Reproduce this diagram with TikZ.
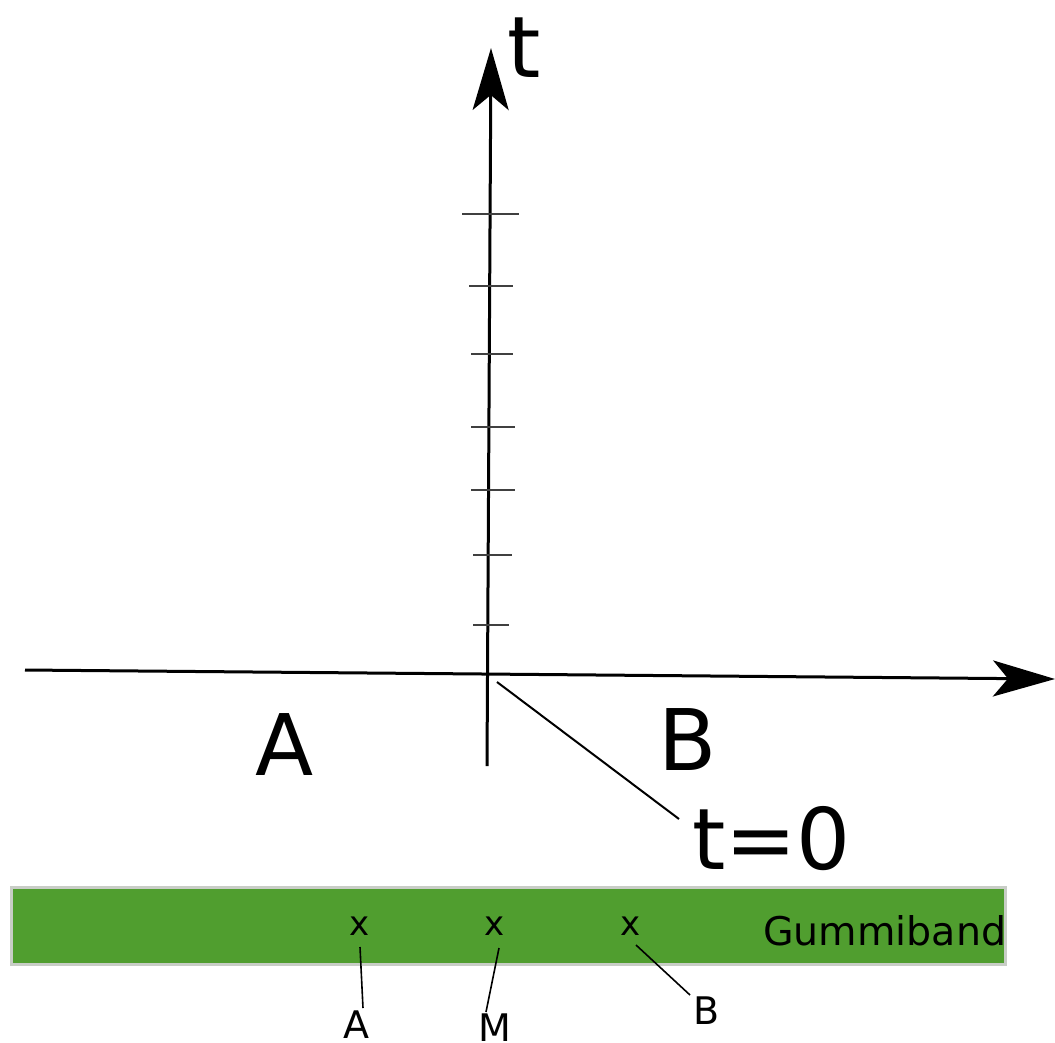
\documentclass[tikz,border=0pt]{standalone}
\usepackage{fontspec}
\setmainfont{DejaVu Sans}
\usetikzlibrary{arrows.meta}
\definecolor{bandgreen}{RGB}{80,158,47}
\definecolor{bandedge}{RGB}{200,205,198}
\begin{document}
\begin{tikzpicture}[x=1pt,y=-1pt,
  axis/.style={line width=3pt,-{Stealth[length=62pt,width=36pt,inset=15pt]}},
  tickmark/.style={line width=2.7pt,black!75},
  big/.style={font=\fontsize{85}{90}\selectfont,inner sep=0pt,anchor=base},
  small/.style={font=\fontsize{38}{40}\selectfont,inner sep=0pt,anchor=base},
  xmark/.style={font=\fontsize{34}{36}\selectfont,inner sep=0pt,anchor=base},
  leader/.style={line width=1.6pt}]
\useasboundingbox (0,0) rectangle (1055,1042);
% axes
\coordinate (vbot) at (487,766);
\coordinate (vtop) at (491,48);
\coordinate (hleft) at (25,670);
\coordinate (hright) at (1055,679);
\draw[axis] (vbot) -- (vtop);
\draw[axis] (hleft) -- (hright);
% ticks
\foreach \y/\a/\b in {214/462/519,286/469/513,354/471/513,427/471/515,490/471/515,555/473/512,625/473/509}{
  \draw[tickmark] (\a,\y) -- (\b,\y);
}
% labels
\node[big] (tl) at (524,77) {t};
\node[big] (Abig) at (285,775) {A};
\node[big] (Bbig) at (688,770) {B};
\node[big,anchor=base west] (t0) at (692,869) {t=0};
\coordinate (orig) at (497,682);
\coordinate (t0end) at (679,819);
\draw[line width=2pt] (orig) -- (t0end);
% band
\node[draw=bandedge,line width=3pt,fill=bandgreen,minimum width=994pt,minimum height=77pt,anchor=north west,inner sep=0pt] (band) at (9.5,885.5) {};
\node[xmark] (xA) at (360,935) {x};
\node[xmark] (xM) at (495,935) {x};
\node[xmark] (xB) at (631,935) {x};
\node[font=\fontsize{39.5}{41}\selectfont,inner sep=0pt,anchor=base west] (gum) at (763,945) {Gummiband};
\node[small] (lA) at (356,1038) {A};
\node[small] (lM) at (495,1041) {M};
\node[small] (lB) at (707,1024) {B};
\coordinate (aA1) at (360,947);
\coordinate (aA2) at (363,1008);
\coordinate (aM1) at (499,948);
\coordinate (aM2) at (486,1012);
\coordinate (aB1) at (636,945);
\coordinate (aB2) at (690,995);
\draw[leader] (aA1) -- (aA2);
\draw[leader] (aM1) -- (aM2);
\draw[leader] (aB1) -- (aB2);
\end{tikzpicture}
\end{document}
